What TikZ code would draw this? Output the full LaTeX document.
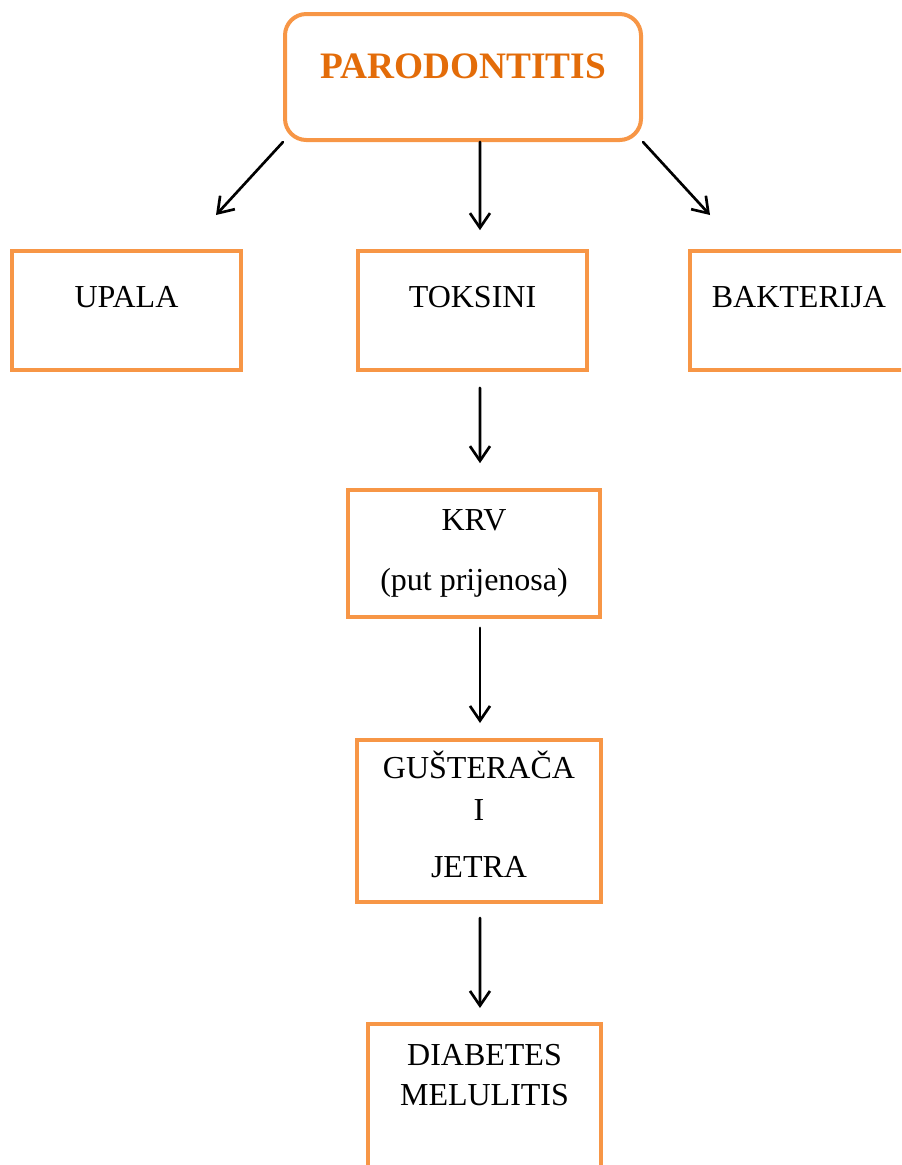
\documentclass[tikz,border=0pt]{standalone}
\usepackage{fontspec}
\setmainfont{Liberation Serif}
\usetikzlibrary{arrows.meta}

\newcommand{\padbelow}[1]{\rule[-#1]{0pt}{#1}}

\begin{document}
\begin{tikzpicture}
	[x=0.75pt,y=-0.75pt,line cap=round,
	%Styles
	box/.style={draw=boxorange,line width=3pt,inner sep=0pt,align=center,font=\fontsize{24}{30}\selectfont},
	title box/.style={box,rounded corners=16pt,text=titleorange,font=\fontsize{28}{32}\selectfont\bfseries},
	arr/.style={-{Straight Barb[length=11pt,width=15pt]},line width=2pt}
	]
	
	%Colors
	\definecolor{boxorange}{HTML}{F79646}	%box lines
	\definecolor{titleorange}{HTML}{E36C09}	%title text
	
	\clip (0,0) rectangle (901,1165);
	
	%The graphic
	\node[title box,minimum width=267pt,minimum height=94.5pt] (title) at (463,77) {PARODONTITIS\padbelow{17pt}};
	
	\node[box,minimum width=172pt,minimum height=89pt] (upala) at (126.5,310.5) {UPALA\padbelow{20pt}};
	\node[box,minimum width=172pt,minimum height=89pt] (toksini) at (472.5,310.5) {TOKSINI\padbelow{20pt}};
	\node[box,minimum width=163.5pt,minimum height=89pt] (bakterija) at (799,310.5) {BAKTERIJA\padbelow{20pt}};
	
	\node[box,minimum width=189pt,minimum height=95pt] (krv) at (474,553.5) {KRV\\[15pt](put prijenosa)};
	\node[box,minimum width=183pt,minimum height=121.5pt] (gusteraca) at (479,821) {GUŠTERAČA\\[1.5pt]I\\[12.75pt]JETRA\padbelow{10.5pt}};
	\node[box,minimum width=175pt,minimum height=150pt,anchor=north] (diabetes) at (484.5,1022) {DIABETES\\MELULITIS\padbelow{73.5pt}};
	
	\coordinate (upala tip) at (216,215);
	\coordinate (bakterija tip) at (710,215);
	
	\draw[arr] (title.south west) -- (upala tip);
	\draw[arr] (title.south east) -- (bakterija tip);
	\draw[arr,shorten >=14.25pt] ([xshift=12.75pt]title.south) -- ([xshift=5.6pt]toksini.north);
	\draw[arr,shorten <=12pt,shorten >=18.75pt] ([xshift=5.6pt]toksini.south) -- ([xshift=4.5pt]krv.north);
	\draw[arr,shorten <=6.75pt,shorten >=11.25pt] ([xshift=4.5pt]krv.south) -- ([xshift=0.75pt]gusteraca.north);
	\draw[arr,shorten <=10.5pt,shorten >=10.5pt] ([xshift=0.75pt]gusteraca.south) -- ([xshift=-3.4pt]diabetes.north);
\end{tikzpicture}
\end{document}
